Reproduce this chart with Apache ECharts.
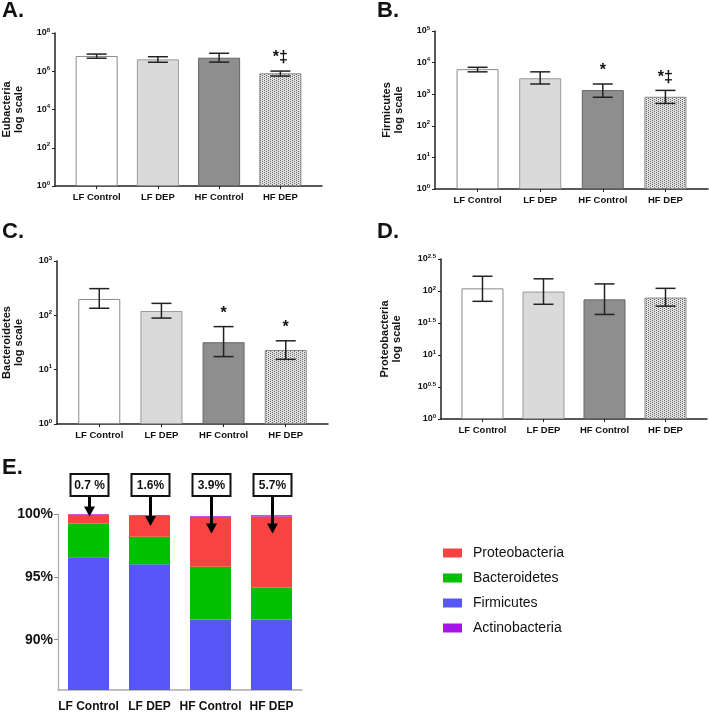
<!DOCTYPE html>
<html>
<head>
<meta charset="utf-8">
<script src="https://cdn.jsdelivr.net/npm/echarts@6/dist/echarts.min.js"></script>
<style>
  html, body { margin: 0; padding: 0; background: #fff; }
  #main { width: 709px; height: 713px; }
</style>
</head>
<body>
<div id="main"></div>
<script>
// groups on every panel
const cats = ['LF Control', 'LF DEP', 'HF Control', 'HF DEP'];

// A. Eubacteria (mean, error low / high)
const eubMean = [6.3e6, 4.2e6, 5.1e6, 7.8e5];
const eubLow = [4.8e6, 2.95e6, 3.0e6, 5.6e5];
const eubHigh = [7.9e6, 5.75e6, 8.7e6, 1.02e6];
const eubMarks = ['', '', '', '*‡'];

// B. Firmicutes
const firmMean = [6.2e3, 3.2e3, 1.35e3, 830];
const firmLow = [5.1e3, 2.1e3, 800, 510];
const firmHigh = [7.1e3, 5.1e3, 2.1e3, 1.32e3];
const firmMarks = ['', '', '*', '*‡'];

// C. Bacteroidetes
const bactMean = [200, 120, 32, 23];
const bactLow = [135, 89, 17.4, 15.5];
const bactHigh = [310, 166, 62, 34];
const bactMarks = ['', '', '*', '*'];

// D. Proteobacteria
const protMean = [110, 98, 74, 79];
const protLow = [69, 62, 43, 58];
const protHigh = [170, 155, 129, 110];
const protMarks = ['', '', '', ''];

// E. relative abundance (%)
const relFirmicutes = [96.55, 96.0, 91.6, 91.6];
const relBacteroidetes = [2.7, 2.2, 4.2, 2.55];
const relProteobacteria = [0.72, 1.65, 3.9, 5.65];
const relActinobacteria = [0.03, 0.05, 0.12, 0.1];
const boxLabels = ['0.7 %', '1.6%', '3.9%', '5.7%'];
const arrowTips = [99.8, 99.05, 98.45, 98.45];

const FONT = 'Liberation Sans, Arial, Helvetica, sans-serif';

// dotted fill used for the HF DEP bars
function makePattern() {
  const c = document.createElement('canvas');
  c.width = 4; c.height = 4;
  const ctx = c.getContext('2d');
  ctx.fillStyle = '#e0e0e0';
  ctx.fillRect(0, 0, 4, 4);
  ctx.fillStyle = '#6a6a6a';
  [[0, 0], [2, 1], [0, 2], [2, 3]].forEach(p => ctx.fillRect(p[0], p[1], 1, 1));
  return c;
}
const pattern = makePattern();

const barStyles = [
  { color: '#ffffff', borderColor: '#8a8a8a', borderWidth: 1 },
  { color: '#dadada', borderColor: '#9a9a9a', borderWidth: 1 },
  { color: '#8e8e8e', borderColor: '#666666', borderWidth: 1 },
  { color: { image: pattern, repeat: 'repeat' }, borderColor: '#888888', borderWidth: 1 }
];

function powLabel(v) {
  let e = Math.round(Math.log10(v) * 2) / 2;
  let s = e % 1 === 0 ? String(e) : e.toFixed(1);
  return '{b|10}{s|' + s + '}';
}

const grids = [
  { left: 53, top: 33, width: 269, height: 153 },
  { left: 435, top: 31, width: 273, height: 158 },
  { left: 54, top: 261, width: 274, height: 163 },
  { left: 441, top: 259, width: 266, height: 160 },
  { left: 58, top: 514, width: 244, height: 176 }
];

const logPanels = [
  { name: 'Eubacteria\nlog scale', base: 100, max: 1e8, gap: 30, mean: eubMean, low: eubLow, high: eubHigh, marks: eubMarks },
  { name: 'Firmicutes\nlog scale', base: 10, max: 1e5, gap: 30, mean: firmMean, low: firmLow, high: firmHigh, marks: firmMarks },
  { name: 'Bacteroidetes\nlog scale', base: 10, max: 1e3, gap: 32, mean: bactMean, low: bactLow, high: bactHigh, marks: bactMarks },
  { name: 'Proteobacteria\nlog scale', base: Math.sqrt(10), max: Math.pow(10, 2.5), gap: 38, mean: protMean, low: protLow, high: protHigh, marks: protMarks }
];

const xAxes = [];
const yAxes = [];
const series = [];

logPanels.forEach((p, k) => {
  xAxes.push({
    gridIndex: k, type: 'value', min: -0.68, max: 3.68,
    axisLine: { show: true, onZero: false, lineStyle: { color: '#222', width: 1.5 } },
    axisTick: { show: true, customValues: [0, 1, 2, 3], length: 3, lineStyle: { color: '#222' } },
    axisLabel: {
      customValues: [0, 1, 2, 3], formatter: v => cats[Math.round(v)],
      fontFamily: FONT, fontWeight: 'bold', fontSize: 9.5, color: '#111', margin: 6
    },
    splitLine: { show: false }
  });
  yAxes.push({
    gridIndex: k, type: 'log', logBase: p.base, min: 1, max: p.max,
    name: p.name, nameLocation: 'middle', nameGap: p.gap,
    nameTextStyle: { fontFamily: FONT, fontWeight: 'bold', fontSize: 11, color: '#111', lineHeight: 12 },
    axisLine: { show: true, onZero: false, lineStyle: { color: '#222', width: 1.5 } },
    axisTick: { show: true, length: 3, lineStyle: { color: '#222' } },
    minorTick: { show: false },
    splitLine: { show: false },
    axisLabel: {
      formatter: powLabel, margin: 5,
      rich: {
        b: { fontFamily: FONT, fontWeight: 'bold', fontSize: 9, color: '#111' },
        s: { fontFamily: FONT, fontWeight: 'bold', fontSize: 6, color: '#111', padding: [0, 0, 6, 0] }
      }
    }
  });
  series.push({
    type: 'bar', xAxisIndex: k, yAxisIndex: k, barWidth: 42,
    data: p.mean.map((v, i) => ({ value: [i, v], itemStyle: barStyles[i] }))
  });
  series.push({
    type: 'custom', xAxisIndex: k, yAxisIndex: k, z: 10,
    data: p.low.map((l, i) => [i, l, p.high[i]]),
    renderItem: (params, api) => {
      const i = api.value(0);
      const lo = api.coord([i, api.value(1)]);
      const hi = api.coord([i, api.value(2)]);
      const w = 10;
      const st = { stroke: '#222', lineWidth: 1.5 };
      const children = [
        { type: 'line', shape: { x1: lo[0], y1: lo[1], x2: hi[0], y2: hi[1] }, style: st },
        { type: 'line', shape: { x1: hi[0] - w, y1: hi[1], x2: hi[0] + w, y2: hi[1] }, style: st },
        { type: 'line', shape: { x1: lo[0] - w, y1: lo[1], x2: lo[0] + w, y2: lo[1] }, style: st }
      ];
      if (p.marks[i]) {
        children.push({
          type: 'text',
          style: {
            text: p.marks[i], x: hi[0], y: hi[1] - 5, align: 'center', verticalAlign: 'bottom',
            font: 'bold 16px ' + FONT, fill: '#111'
          }
        });
      }
      return { type: 'group', children: children };
    }
  });
});

// panel E
xAxes.push({
  gridIndex: 4, type: 'category', data: cats,
  axisLine: { onZero: false, lineStyle: { color: '#aaa', width: 1.5 } },
  axisTick: { show: false },
  axisLabel: { interval: 0, fontFamily: FONT, fontWeight: 'bold', fontSize: 12, color: '#111', margin: 11 }
});
yAxes.push({
  gridIndex: 4, type: 'value', min: 86, max: 100,
  axisLine: { show: true, lineStyle: { color: '#aaa', width: 1.2 } },
  axisTick: { show: true, customValues: [90, 95, 100], length: 4, lineStyle: { color: '#888' } },
  axisLabel: {
    customValues: [90, 95, 100], formatter: '{value}%',
    fontFamily: FONT, fontWeight: 'bold', fontSize: 14, color: '#111', margin: 5
  },
  splitLine: { show: false }
});

const stackDefs = [
  { name: 'Firmicutes', color: '#5757f7', data: relFirmicutes },
  { name: 'Bacteroidetes', color: '#00c000', data: relBacteroidetes },
  { name: 'Proteobacteria', color: '#f84343', data: relProteobacteria },
  { name: 'Actinobacteria', color: '#a516e6', data: relActinobacteria }
];
stackDefs.forEach(s => {
  series.push({
    type: 'bar', name: s.name, stack: 'rel', xAxisIndex: 4, yAxisIndex: 4,
    barWidth: 41, itemStyle: { color: s.color }, data: s.data
  });
});

series.push({
  type: 'custom', xAxisIndex: 4, yAxisIndex: 4, z: 10,
  data: arrowTips.map((t, i) => [i, t]),
  renderItem: (params, api) => {
    const i = api.value(0);
    const x = api.coord([i, 100])[0] + 1;
    const top = api.coord([i, 100])[1];
    const tip = api.coord([i, api.value(1)])[1];
    const boxTop = top - 40, boxH = 22, boxW = 38;
    return {
      type: 'group',
      children: [
        { type: 'rect', shape: { x: x - boxW / 2, y: boxTop, width: boxW, height: boxH },
          style: { fill: '#fff', stroke: '#111', lineWidth: 2 } },
        { type: 'text', style: { text: boxLabels[i], x: x, y: boxTop + boxH / 2 + 1, align: 'center',
          verticalAlign: 'middle', font: 'bold 12px ' + FONT, fill: '#111' } },
        { type: 'line', shape: { x1: x, y1: boxTop + boxH + 1, x2: x, y2: tip - 8 },
          style: { stroke: '#000', lineWidth: 3 } },
        { type: 'polygon', shape: { points: [[x - 5.5, tip - 10], [x + 5.5, tip - 10], [x, tip]] },
          style: { fill: '#000' } }
      ]
    };
  }
});

const letterStyle = { fontFamily: FONT, fontWeight: 'bold', fontSize: 22, color: '#111' };

const option = {
  animation: false,
  backgroundColor: '#fff',
  title: [
    { text: 'A.', left: 2, top: 0, padding: 0, textStyle: letterStyle },
    { text: 'B.', left: 377, top: 0, padding: 0, textStyle: letterStyle },
    { text: 'C.', left: 2, top: 221, padding: 0, textStyle: letterStyle },
    { text: 'D.', left: 377, top: 221, padding: 0, textStyle: letterStyle },
    { text: 'E.', left: 2, top: 457, padding: 0, textStyle: letterStyle }
  ],
  legend: {
    data: ['Proteobacteria', 'Bacteroidetes', 'Firmicutes', 'Actinobacteria'],
    orient: 'vertical', left: 443, top: 546, itemWidth: 19, itemHeight: 9, itemGap: 11,
    icon: 'rect', padding: 0,
    textStyle: { fontFamily: FONT, fontSize: 14, color: '#111', padding: [0, 0, 0, 6] }
  },
  grid: grids,
  xAxis: xAxes,
  yAxis: yAxes,
  series: series
};

const chart = echarts.init(document.getElementById('main'));
chart.setOption(option);
</script>
</body>
</html>
